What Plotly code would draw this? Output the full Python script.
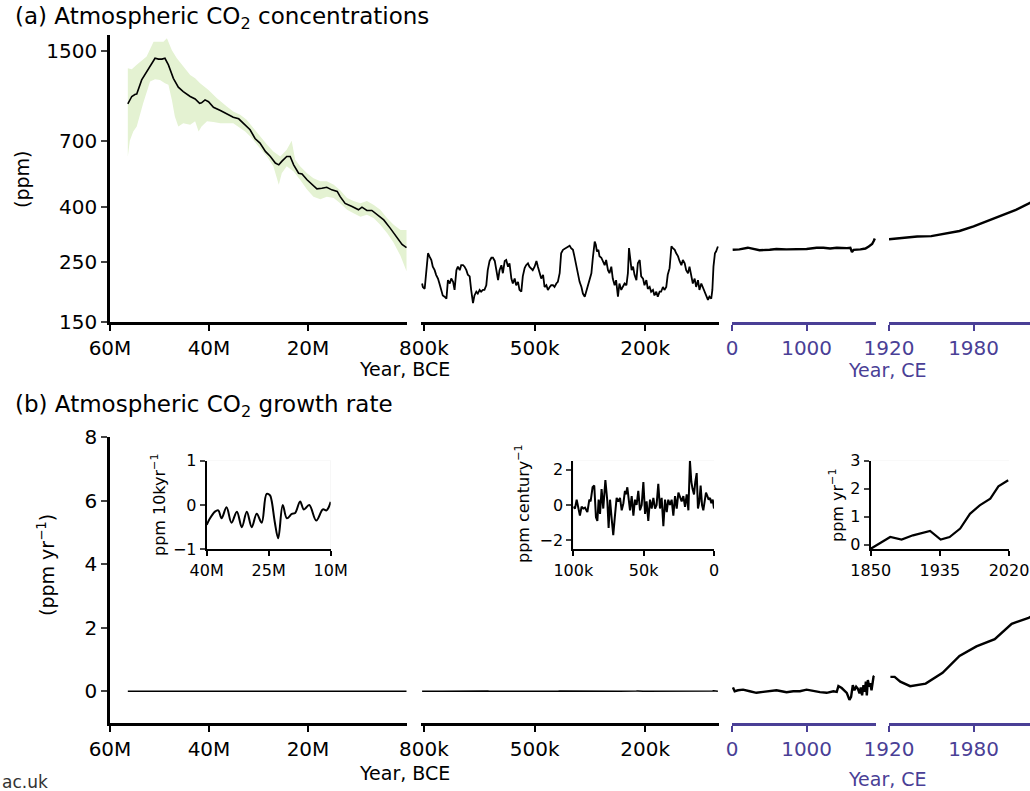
import numpy as np
import plotly.graph_objects as go

W, H = 1030, 791
FONT = "DejaVu Sans"
PURPLE = "#4a3f96"
BAND = "#e4f2d2"
INSET_BG = "#d9d9d9"

# ---------------- (a) panel 1: Cenozoic CO2 (Myr BP, ppm) ----------------
ceno_age = [56.4, 55.6, 54.9, 54.6, 53.6, 52.6, 51.6, 50.9, 50.2, 49.5,
            48.9, 48.2, 47.2, 46.2, 45.2, 43.8, 42.8, 41.9, 41.5, 40.8,
            40.1, 39.1, 37.7, 36.4, 35.1, 34.0, 32.7, 31.7, 30.7, 29.7,
            28.6, 27.6, 26.6, 25.9, 25.3, 24.3, 23.6, 22.9, 21.9, 21.2,
            20.2, 19.2, 18.2, 17.2, 16.2, 15.2, 14.1, 13.5, 12.5, 11.1,
            9.8, 9.1, 8.1, 7.1, 6.1, 4.7, 3.4, 2.0, 1.0, 0.1]
ceno_co2 = [957, 1019, 1038, 1040, 1173, 1258, 1352, 1410, 1400, 1400,
            1410, 1333, 1189, 1103, 1062, 1019, 998, 962, 966, 990,
            975, 930, 904, 879, 854, 843, 801, 768, 713, 686,
            639, 612, 579, 570, 587, 612, 612, 570, 531, 528,
            502, 481, 465, 467, 471, 461, 455, 435, 411, 400,
            389, 398, 387, 387, 373, 357, 333, 306, 290, 282]
upper_age = [56.4, 55.6, 54.6, 52.6, 51.2, 50.2, 49.2, 48.5, 47.5, 46.5,
             45.2, 43.8, 42.8, 41.8, 40.1, 38.4, 36.4, 35.1, 33.7, 32.4,
             31.0, 29.7, 28.3, 27.0, 25.6, 24.3, 23.3, 22.6, 21.6, 20.2,
             18.9, 17.5, 16.2, 14.8, 13.5, 12.1, 10.8, 9.4, 8.1, 6.7,
             5.4, 4.0, 2.7, 1.3, 0.1]
upper_co2 = [1295, 1285, 1333, 1430, 1623, 1623, 1623, 1670, 1510, 1410,
             1313, 1224, 1189, 1140, 1077, 1003, 936, 897, 872, 836,
             778, 727, 677, 639, 612, 648, 700, 596, 563, 531,
             509, 496, 496, 481, 459, 430, 419, 411, 419, 405,
             389, 362, 343, 328, 328]
lower_age = [56.4, 56.0, 55.3, 54.6, 53.3, 51.9, 50.9, 49.9, 48.9, 48.2,
             47.5, 46.9, 46.2, 45.2, 43.8, 42.8, 42.1, 41.5, 40.4, 39.1,
             37.7, 36.4, 35.1, 34.0, 32.7, 31.7, 30.7, 29.7, 28.3, 27.0,
             25.9, 25.3, 24.3, 22.9, 21.6, 20.2, 18.9, 17.5, 16.2, 14.8,
             13.5, 12.1, 10.8, 9.4, 8.1, 6.7, 5.4, 4.0, 2.7, 1.3, 0.1]
lower_co2 = [612, 700, 757, 789, 962, 1157, 1180, 1173, 1140, 1125,
             990, 860, 789, 812, 801, 826, 757, 789, 826, 820,
             811, 812, 811, 789, 757, 727, 686, 657, 612, 563,
             481, 531, 563, 539, 502, 462, 435, 426, 435, 430,
             411, 389, 378, 367, 373, 362, 343, 319, 294, 263, 231]

# ---------------- (a) panel 2: ice cores (kyr BP, ppm) ----------------
ice_age = [805, 803, 798, 794, 789, 785, 780, 776, 771, 767, 762, 758, 753, 749, 744,
           739, 735, 730, 726, 721, 717, 712, 708, 703, 699, 694, 690, 685, 681, 676,
           672, 667, 663, 658, 654, 649, 645, 640, 636, 631, 627, 622, 617, 613, 608,
           604, 599, 595, 590, 586, 581, 577, 572, 568, 563, 559, 554, 550, 545, 541,
           536, 532, 527, 523, 518, 514, 509, 505, 500, 495, 491, 486, 482, 477, 473,
           468, 464, 459, 455, 450, 446, 441, 437, 432, 428, 423, 419, 414, 410, 405,
           401, 396, 392, 387, 383, 378, 373, 369, 364, 360, 355, 351, 346, 342, 337,
           334, 331, 327, 324, 319, 315, 310, 306, 301, 297, 292, 288, 283, 279, 274,
           270, 265, 261, 256, 251, 247, 244, 241, 237, 233, 229, 224, 220, 215, 211,
           206, 202, 197, 193, 188, 184, 179, 175, 170, 166, 161, 157, 152, 148, 143,
           139, 134, 129, 125, 120, 116, 111, 107, 102, 98, 93, 89, 84, 80, 75,
           71, 66, 62, 57, 53, 48, 44, 39, 35, 30, 26, 21, 18, 15, 11, 8, 3]
ice_co2 = [208, 202, 199, 233, 269, 262, 254, 240, 233, 224, 217, 208, 197, 188, 186,
           183, 214, 208, 217, 211, 197, 233, 240, 233, 243, 243, 240, 233, 224, 221,
           197, 176, 188, 194, 191, 197, 194, 197, 197, 205, 233, 252, 259, 259, 252,
           237, 214, 233, 243, 227, 252, 254, 240, 247, 217, 208, 217, 205, 211, 197,
           194, 221, 237, 243, 247, 240, 237, 233, 240, 252, 240, 224, 217, 224, 202,
           205, 197, 202, 205, 205, 202, 208, 211, 227, 269, 277, 279, 281, 285, 287,
           281, 277, 262, 240, 227, 211, 202, 191, 186, 194, 208, 217, 227, 259, 297,
           289, 273, 277, 262, 259, 252, 243, 254, 233, 227, 240, 217, 205, 214, 186,
           208, 197, 202, 208, 205, 227, 281, 262, 233, 240, 224, 214, 247, 254, 221,
           217, 205, 214, 199, 202, 194, 197, 188, 194, 186, 194, 194, 202, 197, 202,
           224, 237, 285, 281, 277, 269, 262, 252, 243, 254, 247, 233, 227, 240, 224,
           208, 217, 202, 214, 197, 208, 202, 194, 188, 181, 186, 183, 197, 240, 269, 273, 285]

# ---------------- (a) panels 3 & 4: Common Era and instrumental ----------------
ce_year = [9, 99, 212, 279, 369, 505, 595, 730, 865, 1000, 1135, 1225, 1315, 1405,
           1541, 1586, 1608, 1631, 1721, 1788, 1833, 1878, 1901, 1914]
ce_co2 = [277, 278, 282, 279, 276, 277, 279, 278, 279, 279, 282, 282, 280, 282,
          281, 282, 272, 277, 278, 280, 285, 291, 299, 305]
mod_year = [1920, 1930, 1940, 1950, 1960, 1970, 1980, 1990, 2000, 2010, 2020, 2022]
mod_co2 = [303, 306, 310, 311, 317, 325, 338, 354, 369, 389, 413, 417]

# ---------------- (b) growth rates (ppm/yr) ----------------
ce_rate_year = [13, 36, 81, 148, 238, 327, 417, 507, 596, 664, 731, 821, 910, 1000,
                1090, 1179, 1269, 1359, 1404, 1426, 1471, 1516, 1538, 1574, 1596,
                1619, 1641, 1664, 1686, 1709, 1726, 1744, 1762, 1780, 1794, 1807,
                1821, 1839, 1852, 1870, 1884, 1897, 1906]
ce_rate = [0.12, 0.0, 0.03, 0.05, 0.0, -0.05, -0.02, 0.0, 0.03, 0.0, -0.03, 0.0, 0.0, 0.05,
           0.0, -0.03, -0.05, 0.0, -0.02, 0.16, 0.1, 0.01, -0.05, -0.27, -0.18,
           0.19, 0.03, 0.14, 0.08, -0.07, 0.12, -0.13, 0.19, -0.02, 0.3, -0.13,
           0.35, 0.14, 0.25, 0.03, 0.35, 0.46, 0.48]
mod_rate_year = [1921, 1924, 1928, 1935, 1946, 1958, 1970, 1982, 1995, 2007, 2019, 2021]
mod_rate = [0.45, 0.45, 0.30, 0.16, 0.24, 0.58, 1.11, 1.41, 1.64, 2.12, 2.31, 2.35]

# insets
in1_age = [40, 39.2, 38.0, 37.2, 36.4, 35.2, 34.0, 32.7, 31.5, 30.3, 29.1, 27.9, 26.7,
           25.5, 24.7, 24.3, 23.5, 22.7, 21.6, 20.6, 19.4, 18.6, 17.4, 16.5, 15.2,
           13.5, 11.9, 11.0, 10.0]
in1_rate = [-0.45, -0.3, -0.15, -0.12, -0.3, -0.05, -0.4, -0.15, -0.5, -0.15, -0.5, -0.2, -0.4,
            0.25, 0.22, 0.1, -0.4, -0.75, 0.0, -0.3, -0.2, -0.18, 0.08, -0.1, 0.0,
            -0.35, -0.1, -0.12, 0.07]
in2_age = [100, 98.8, 97.6, 96.4, 95.3, 94.1, 92.9, 91.7, 90.0, 88.6, 87.7, 86.3, 85.1, 83.9,
           82.9, 82.0, 81.0, 79.9, 78.7, 77.2, 75.8, 74.9, 73.9, 72.7, 71.6, 70.4, 69.2,
           68.0, 66.8, 65.6, 64.4, 63.3, 62.6, 61.6, 60.7, 59.7, 58.5, 57.3, 56.2, 55.0,
           53.8, 52.6, 51.4, 50.2, 49.0, 47.9, 46.7, 45.5, 44.3, 43.1, 41.9, 40.8, 39.6,
           38.4, 37.2, 36.0, 34.8, 33.6, 32.5, 31.3, 30.1, 28.9, 27.7, 26.5, 25.3, 24.2,
           23.0, 21.8, 20.6, 19.4, 18.2, 17.1, 16.1, 15.2, 14.2, 13.3, 12.3, 11.4, 10.4,
           9.5, 8.5, 7.6, 6.6, 5.7, 4.7, 3.8, 2.8, 1.9, 0.9, 0.0]
in2_rate = [-0.1, -0.2, 0.3, -0.1, -0.6, -0.1, -0.2, -0.15, -0.4, 0.3, 0.2, 1.0, 1.1, -0.7,
            -0.9, 0.3, -0.5, 0.9, -0.2, 1.4, 0.2, -1.3, 0.3, -0.8, -1.7, -0.6, 0.4,
            0.2, 0.4, -0.3, 0.1, 0.8, 0.6, 1.0, 0.2, -0.3, 0.5, -0.6, 0.3, 0.0,
            0.8, -0.3, 0.0, 1.3, -0.5, 0.2, -0.9, 0.3, -0.2, 0.4, -0.2, 0.0, 1.2,
            -0.2, 0.4, -1.2, 0.3, -0.4, 0.3, 0.0, 0.3, -0.6, 0.5, -0.2, 0.7, 0.4,
            0.2, 0.5, -0.1, 0.6, -0.3, 2.5, 1.3, 0.9, 0.6, 1.3, 1.8, -0.2, 0.2,
            1.1, 0.0, -0.3, 0.3, 0.7, 0.5, 0.3, 0.4, 0.1, 0.3, -0.2]
in3_year = [1850, 1874, 1888, 1902, 1923, 1936, 1947, 1960, 1972, 1984, 1997, 2007, 2019]
in3_rate = [-0.15, 0.27, 0.18, 0.33, 0.49, 0.18, 0.27, 0.57, 1.1, 1.4, 1.64, 2.08, 2.3]

# growth rates of the long records, derived from the concentration arrays
ceno_rate = np.gradient(np.array(ceno_co2, float), -np.array(ceno_age) * 1e6)
ice_rate = np.gradient(np.array(ice_co2, float), -np.array(ice_age, float) * 1e3)


def px(x):
    return x / W


def py(y):
    return 1 - y / H


fig = go.Figure()


def line(x, y, xa, ya, width=2.0, color="black", shape="linear"):
    fig.add_trace(go.Scatter(x=x, y=y, xaxis=xa, yaxis=ya, mode="lines",
                             line=dict(color=color, width=width, shape=shape),
                             showlegend=False, hoverinfo="skip"))


# (a)
fig.add_trace(go.Scatter(x=upper_age + lower_age[::-1], y=upper_co2 + lower_co2[::-1],
                         xaxis="x", yaxis="y", mode="lines", fill="toself",
                         fillcolor=BAND, line=dict(width=0, color=BAND),
                         showlegend=False, hoverinfo="skip"))
line(ceno_age, ceno_co2, "x", "y", 1.6)
line(ice_age, ice_co2, "x2", "y", 1.8)
line(ce_year, ce_co2, "x3", "y", 2.4)
line(mod_year, mod_co2, "x4", "y", 2.4)
# (b)
line(ceno_age, ceno_rate.tolist(), "x5", "y2", 1.5)
line(ice_age, ice_rate.tolist(), "x6", "y2", 1.5)
line(ce_rate_year, ce_rate, "x7", "y2", 2.4)
line(mod_rate_year, mod_rate, "x8", "y2", 2.4)
# insets
line(in1_age, in1_rate, "x9", "y3", 2.0, shape="spline")
line(in2_age, in2_rate, "x10", "y4", 2.0)
line(in3_year, in3_rate, "x11", "y5", 2.2)

TF = dict(family=FONT, size=20, color="black")
TFI = dict(family=FONT, size=16, color="black")


def xax(domain, rng, tv, tt, anchor, color="black", font=TF, lw=2.5, tl=6):
    return dict(domain=domain, range=rng, tickvals=tv, ticktext=tt, anchor=anchor,
                showline=True, linecolor=color, linewidth=lw, ticks="outside",
                ticklen=tl, tickwidth=2, tickcolor=color, automargin=False,
                tickfont=dict(family=font["family"], size=font["size"], color=color),
                showgrid=False, zeroline=False, fixedrange=True)


d1 = [px(110), px(407)]
d2 = [px(421), px(719)]
d3 = [px(732), px(876)]
d4 = [px(889), 1.0]
ya_dom = [py(322), py(35)]
yb_dom = [py(723), py(437)]

layout = dict(
    width=W, height=H, margin=dict(l=0, r=0, t=0, b=0, pad=0, autoexpand=False),
    paper_bgcolor="white", plot_bgcolor="white", showlegend=False,
    font=dict(family=FONT, size=19, color="black"),
    xaxis=xax(d1, [60, 0], [60, 40, 20], ["60M", "40M", "20M"], "y"),
    xaxis2=xax(d2, [808, 0], [800, 500, 200], ["800k", "500k", "200k"], "y"),
    xaxis3=xax(d3, [0, 1930], [0, 1000], ["0", "1000"], "y", PURPLE),
    xaxis4=xax(d4, [1920, 2020], [1920, 1980], ["1920", "1980"], "y", PURPLE),
    xaxis5=xax(d1, [60, 0], [60, 40, 20], ["60M", "40M", "20M"], "y2"),
    xaxis6=xax(d2, [808, 0], [800, 500, 200], ["800k", "500k", "200k"], "y2"),
    xaxis7=xax(d3, [0, 1930], [0, 1000], ["0", "1000"], "y2", PURPLE),
    xaxis8=xax(d4, [1920, 2020], [1920, 1980], ["1920", "1980"], "y2", PURPLE),
    xaxis9=xax([px(206.7), px(330.7)], [40, 10], [40, 25, 10], ["40M", "25M", "10M"], "y3",
               font=TFI, lw=2, tl=5),
    xaxis10=xax([px(573.3), px(714)], [100, 0], [100, 50, 0], ["100k", "50k", "0"], "y4",
                font=TFI, lw=2, tl=5),
    xaxis11=xax([px(870.7), px(1009)], [1850, 2020], [1850, 1935, 2020], ["1850", "1935", "2020"],
                "y5", font=TFI, lw=2, tl=5),
    yaxis=dict(domain=ya_dom, type="log", range=[np.log10(150), np.log10(1718)],
               tickvals=[150, 250, 400, 700, 1500], ticktext=["150", "250", "400", "700", "1500"],
               anchor="x", showline=True, linecolor="black", linewidth=2.5, ticks="outside",
               ticklen=6, tickwidth=2, tickfont=TF, showgrid=False, zeroline=False,
               automargin=False),
    yaxis2=dict(domain=yb_dom, range=[-1, 8], tickvals=[0, 2, 4, 6, 8],
                ticktext=["0", "2", "4", "6", "8"],
                anchor="x5", showline=True, linecolor="black", linewidth=2.5, ticks="outside",
                ticklen=6, tickwidth=2, tickfont=TF, showgrid=False, zeroline=False,
                automargin=False),
)
inset_y = [py(549.3), py(460.7)]
for name, anc, rng, tv, tt in [
    ("yaxis3", "x9", [-1, 1], [-1, 0, 1], ["\u22121", "0", "1"]),
    ("yaxis4", "x10", [-2.5, 2.5], [-2, 0, 2], ["\u22122", "0", "2"]),
    ("yaxis5", "x11", [-0.17, 3], [0, 1, 2, 3], ["0", "1", "2", "3"]),
]:
    layout[name] = dict(domain=inset_y, range=rng, tickvals=tv, ticktext=tt, anchor=anc,
                        showline=True, linecolor="black", linewidth=2, ticks="outside",
                        ticklen=5, tickwidth=2, tickfont=TFI, showgrid=False, zeroline=False,
                        automargin=False)
fig.update_layout(**layout)

# inset backgrounds
for xr, yr in [("x9", "y3"), ("x10", "y4"), ("x11", "y5")]:
    fig.add_shape(type="rect", xref=f"{xr} domain", yref=f"{yr} domain", x0=0, x1=1, y0=0, y1=1,
                  fillcolor=INSET_BG, line=dict(width=0), layer="below")


def ann(text, x, y, size=19, color="black", xanchor="center", yanchor="middle", angle=0):
    fig.add_annotation(text=text, x=px(x), y=py(y), xref="paper", yref="paper",
                       showarrow=False, xanchor=xanchor, yanchor=yanchor, textangle=angle,
                       font=dict(family=FONT, size=size, color=color))


ann("(a) Atmospheric CO<sub>2</sub> concentrations", 13, 18, 23, xanchor="left")
ann("(b) Atmospheric CO<sub>2</sub> growth rate", 13, 406, 23, xanchor="left")
ann("(ppm)", 22, 180, 19, angle=-90)
ann("(ppm yr<sup>\u22121</sup>)", 46, 565, 19, angle=-90)
ann("Year, BCE", 404, 369, 19)
ann("Year, BCE", 404, 773, 19)
ann("Year, CE", 887, 370, 19, PURPLE)
ann("Year, CE", 887, 779, 19, PURPLE)
ann("ppm 10kyr<sup>\u22121</sup>", 158, 505, 16, angle=-90)
ann("ppm century<sup>\u22121</sup>", 522, 504, 16, angle=-90)
ann("ppm yr<sup>\u22121</sup>", 836, 505, 16, angle=-90)
ann("ac.uk", 0, 782, 17, "#333333", xanchor="left")

fig.write_html("out.html")
